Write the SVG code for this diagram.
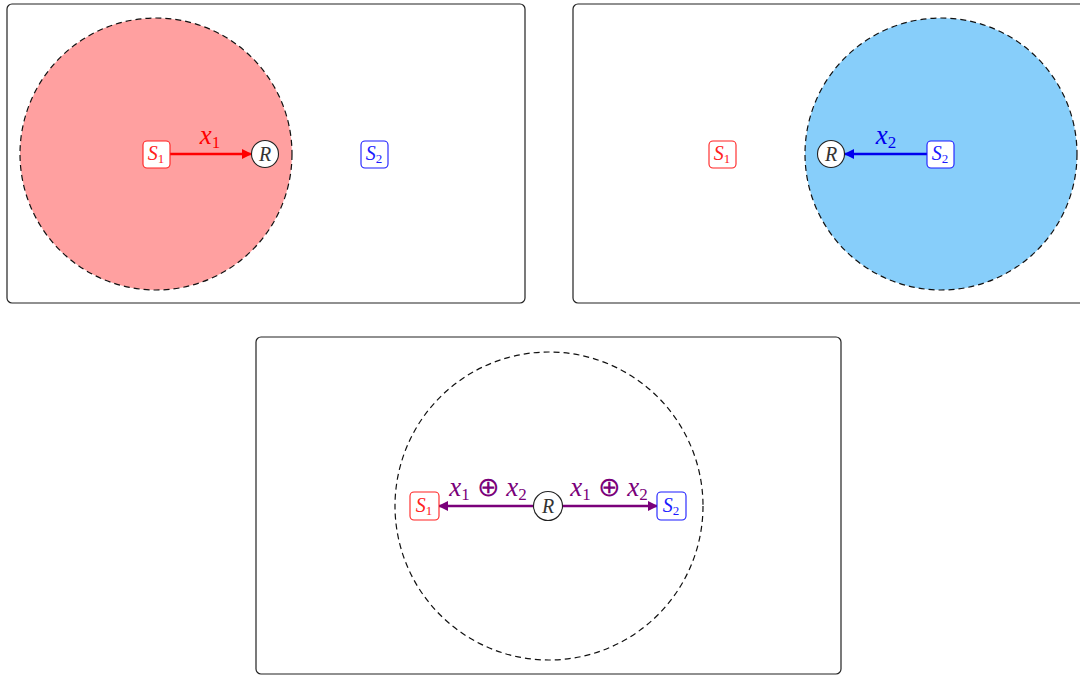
<svg xmlns="http://www.w3.org/2000/svg" width="1080" height="675" viewBox="0 0 1080 675">
<style>
.panel{fill:#ffffff;stroke:#222;stroke-width:1.2}
.range{stroke:#111;stroke-width:1.2;stroke-dasharray:6,4}
.sbox{fill:#ffffff;stroke-width:1.1}
.s1{stroke:#ff2020}
.s2{stroke:#1a1aff}
.rnode{fill:#ffffff;stroke:#222;stroke-width:1.1}
.t{font-family:"Liberation Serif","Times New Roman",serif;font-style:italic;font-size:20px;text-anchor:middle}
.sub{font-size:13px;font-style:normal}
.lbl{font-family:"Liberation Serif","Times New Roman",serif;font-style:italic;font-size:27px;text-anchor:middle}
.lsub{font-size:17px;font-style:normal}
.op{font-style:normal}
</style>
<defs>
<marker id="ar" viewBox="0 0 10 10" refX="9" refY="5" markerWidth="4" markerHeight="4" orient="auto"><path d="M0,0 L10,5 L0,10 z" fill="#ff0000"/></marker>
<marker id="ab" viewBox="0 0 10 10" refX="9" refY="5" markerWidth="4" markerHeight="4" orient="auto"><path d="M0,0 L10,5 L0,10 z" fill="#0000ee"/></marker>
<marker id="ap" viewBox="0 0 10 10" refX="9" refY="5" markerWidth="4" markerHeight="4" orient="auto"><path d="M0,0 L10,5 L0,10 z" fill="#7a007a"/></marker>
</defs>

<g id="panel1">
<rect class="panel" x="7" y="4" width="518" height="299" rx="5"/>
<circle class="range" cx="156" cy="154" r="136" fill="#ffa0a0"/>
</g>
<g id="panel2">
<rect class="panel" x="573" y="4" width="520" height="299" rx="5"/>
<circle class="range" cx="941" cy="154" r="136" fill="#87cefa"/>
</g>
<g id="panel3">
<rect class="panel" x="256" y="337" width="585" height="337" rx="5"/>
<circle class="range" cx="549" cy="506" r="154" fill="none"/>
</g>

<g id="connectors">
<line x1="169" y1="154" x2="251" y2="154" stroke="#ff0000" stroke-width="2.5" marker-end="url(#ar)"/>
<text class="lbl" x="210" y="144" fill="#ff0000">x<tspan class="lsub" dy="4">1</tspan></text>
<line x1="927" y1="154" x2="845" y2="154" stroke="#0000ee" stroke-width="2.5" marker-end="url(#ab)"/>
<text class="lbl" x="886" y="144" fill="#0000ee">x<tspan class="lsub" dy="4">2</tspan></text>
<line x1="534" y1="506" x2="439" y2="506" stroke="#7a007a" stroke-width="2.5" marker-end="url(#ap)"/>
<line x1="562" y1="506" x2="657" y2="506" stroke="#7a007a" stroke-width="2.5" marker-end="url(#ap)"/>
<text class="lbl" x="488" y="496" fill="#7a007a">x<tspan class="lsub" dy="4">1</tspan><tspan class="op" dy="-4"> ⊕ </tspan>x<tspan class="lsub" dy="4">2</tspan></text>
<text class="lbl" x="609" y="496" fill="#7a007a">x<tspan class="lsub" dy="4">1</tspan><tspan class="op" dy="-4"> ⊕ </tspan>x<tspan class="lsub" dy="4">2</tspan></text>
</g>

<g id="p1-S1"><rect class="sbox s1" x="143" y="141" width="27" height="27" rx="4"/><text class="t" x="156" y="160" fill="#ff2020">S<tspan class="sub" dy="3">1</tspan></text></g>
<g id="p1-R"><circle class="rnode" cx="265" cy="154" r="13.5"/><text class="t" x="265" y="161" fill="#333">R</text></g>
<g id="p1-S2"><rect class="sbox s2" x="361" y="141" width="27" height="27" rx="4"/><text class="t" x="374" y="160" fill="#1a1aff">S<tspan class="sub" dy="3">2</tspan></text></g>

<g id="p2-S1"><rect class="sbox s1" x="709" y="141" width="27" height="27" rx="4"/><text class="t" x="722" y="160" fill="#ff2020">S<tspan class="sub" dy="3">1</tspan></text></g>
<g id="p2-R"><circle class="rnode" cx="831" cy="154" r="13.5"/><text class="t" x="831" y="161" fill="#333">R</text></g>
<g id="p2-S2"><rect class="sbox s2" x="927" y="141" width="27" height="27" rx="4"/><text class="t" x="940" y="160" fill="#1a1aff">S<tspan class="sub" dy="3">2</tspan></text></g>

<g id="p3-S1"><rect class="sbox s1" x="410" y="492" width="29" height="28" rx="4"/><text class="t" x="424" y="512" fill="#ff2020">S<tspan class="sub" dy="3">1</tspan></text></g>
<g id="p3-R"><circle class="rnode" cx="548" cy="506" r="14.5"/><text class="t" x="548" y="513" fill="#333">R</text></g>
<g id="p3-S2"><rect class="sbox s2" x="657" y="492" width="29" height="28" rx="4"/><text class="t" x="671" y="512" fill="#1a1aff">S<tspan class="sub" dy="3">2</tspan></text></g>
</svg>
